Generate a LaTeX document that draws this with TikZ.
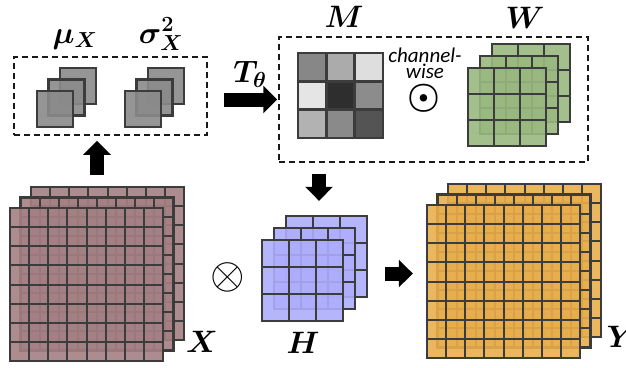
\RequirePackage{fix-cm}
\documentclass[tikz,border=0pt]{standalone}
\usepackage{amsmath,bm}
\usepackage{fontspec}
\newfontfamily\chfont{Carlito}
\usetikzlibrary{arrows.meta,positioning}

\definecolor{xcol}{HTML}{A48084}
\definecolor{ycol}{HTML}{E8AE4C}
\definecolor{hcol}{HTML}{ADADFC}
\definecolor{wcol}{HTML}{98B880}
\definecolor{scol}{HTML}{8A8A8A}
\definecolor{edge}{HTML}{3C3C3C}

\tikzset{
  gridline/.style={draw=edge, line width=2pt},
  dashbox/.style={draw=black!90, line width=1.5pt, dash pattern=on 6pt off 4pt, inner sep=0pt},
  fatarrow/.style={line width=14pt, -{Triangle[width=27pt,length=14pt]}, black},
  lab/.style={anchor=base, font=\fontsize{31}{36}\selectfont},
}

% stack of three feature maps: name, x, y, size, cells, offset, colour
\newcommand{\fmstack}[7]{%
  \pgfmathtruncatemacro\fmcut{#5-1}%
  \pgfmathsetmacro\fmcell{#4/#5}%
  \foreach \k in {2,1,0}{
    \begin{scope}[shift={(#2+\k*#6,#3-\k*#6)}]
      \fill[#7, fill opacity=0.9] (0,0) rectangle (#4,#4);
      \ifnum\fmcut>0
        \foreach \i in {1,...,\fmcut}{
          \draw[gridline] (\i*\fmcell,0) -- (\i*\fmcell,#4);
          \draw[gridline] (0,\i*\fmcell) -- (#4,\i*\fmcell);
        }
      \fi
      \draw[gridline, line width=2.4pt] (0,0) rectangle (#4,#4);
    \end{scope}
  }
  \pgfmathsetmacro\fmw{#4+2*#6}%
  \node[inner sep=0pt, minimum size=\fmw] (#1) at (#2+\fmw/2,#3+#4/2-#6) {};
}

\begin{document}
\begin{tikzpicture}[x=1pt, y=-1pt]
  \useasboundingbox (0,0) rectangle (626,367);

  % statistics of X
  \node[dashbox, minimum width=193, minimum height=78] (stat) at (110.5,96) {};
  \fmstack{mu}{37}{91}{36}{1}{11.5}{scol}
  \fmstack{sigma}{125}{91}{36}{1}{11.5}{scol}
  \node[lab] (mulab) at (75,43) {$\bm{\mu_X}$};
  \node[lab] (sigmalab) at (161,43) {$\bm{\sigma_X^2}$};

  % generated modulation
  \node[dashbox, minimum width=309, minimum height=125] (mod) at (433.5,99.5) {};
  \foreach \c/\r/\g in {0/0/53, 1/0/67, 2/0/87,
                         0/1/90, 1/1/18, 2/1/55,
                         0/2/70, 1/2/54, 2/2/33}
    \fill[white!\g!black] (298+\c*28.333,53+\r*28.333) rectangle ++(28.333,28.333);
  \foreach \i in {1,2}{
    \draw[gridline, line width=2.6pt] (298+\i*28.333,53) -- (298+\i*28.333,138);
    \draw[gridline, line width=2.6pt] (298,53+\i*28.333) -- (383,53+\i*28.333);
  }
  \draw[gridline, line width=2.6pt] (298,53) rectangle (383,138);
  \node[inner sep=0pt, minimum size=85] (M) at (340.5,95.5) {};
  \node[lab] (mlab) at (344,27) {$\bm{M}$};

  \node[align=center, inner sep=0pt, font=\chfont\itshape\fontsize{21}{14}\selectfont] (cw) at (425,63) {channel-\\wise};
  \node[inner sep=0pt, scale=1.15, font=\fontsize{32}{36}\selectfont] (odot) at (424,98) {$\bm{\odot}$};

  \fmstack{W}{468}{68}{78}{3}{12}{wcol}
  \node[lab] (wlab) at (525,28) {$\bm{W}$};

  % input, kernel and output
  \fmstack{X}{10}{208}{153}{8}{10.5}{xcol}
  \node[lab] (xlab) at (202,352) {$\bm{X}$};
  \node[inner sep=0pt, scale=1.2, font=\fontsize{37}{42}\selectfont] (otimes) at (228,277) {$\otimes$};
  \fmstack{H}{262}{240}{81}{3}{12}{hcol}
  \node[lab] (hlab) at (303,353) {$\bm{H}$};
  \fmstack{Y}{427}{205}{153}{8}{10.5}{ycol}
  \node[lab] (ylab) at (621,347) {$\bm{Y}$};

  % arrows
  \draw[fatarrow, shorten <=12pt, shorten >=5pt] (X.north) -- (stat.south -| X.north);
  \draw[fatarrow, shorten <=16pt, shorten >=1pt] (stat.east |- mod.west) -- (mod.west)
    node[lab, pos=0.6, yshift=17pt] (tlab) {$\bm{T_\theta}$};
  \draw[fatarrow, shorten <=11pt, shorten >=15pt] ([xshift=4.5pt]mod.south -| H.north) -- ([xshift=4.5pt]H.north);
  \draw[fatarrow, shorten <=18pt, shorten >=14pt] ([yshift=-5pt]H.east) -- ([yshift=-5pt]H.east -| Y.west);
\end{tikzpicture}
\end{document}
